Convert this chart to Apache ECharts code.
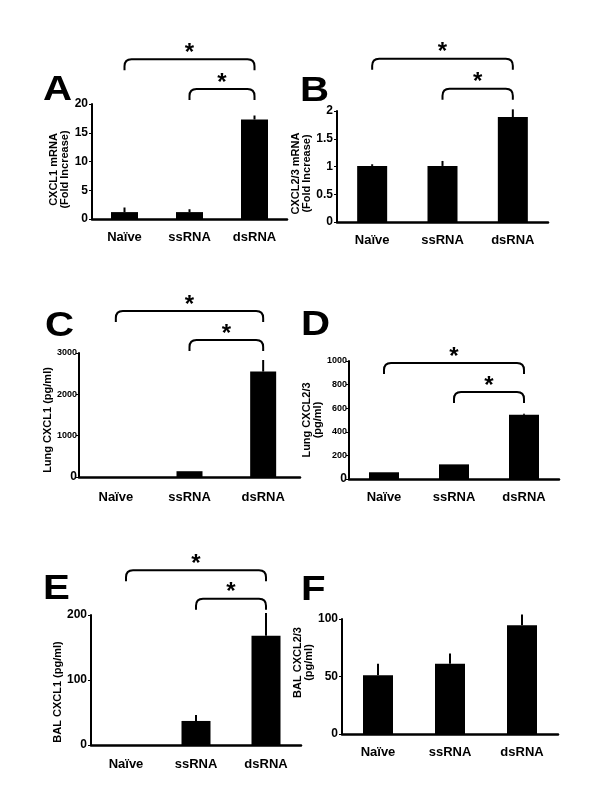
<!DOCTYPE html>
<html>
<head>
<meta charset="utf-8">
<script src="https://cdn.jsdelivr.net/npm/echarts@6/dist/echarts.min.js"></script>
<style>
html,body{margin:0;padding:0;background:#fff;}
#chart{width:600px;height:800px;}
</style>
</head>
<body>
<div id="chart"></div>
<script>
// ---------- data ----------
const categories = ['Naïve', 'ssRNA', 'dsRNA'];

const valuesA = [1.2, 1.2, 17.3];
const errTopA = [2.0, 1.7, 18.0];
const ticksA = [0, 5, 10, 15, 20];

const valuesB = [1.01, 1.01, 1.89];
const errTopB = [1.04, 1.10, 2.03];
const ticksB = [0, 0.5, 1, 1.5, 2];

const valuesC = [0, 140, 2550];
const errTopC = [0, 140, 2830];
const ticksC = [0, 1000, 2000, 3000];

const valuesD = [57, 124, 545];
const errTopD = [57, 128, 552];
const ticksD = [0, 200, 400, 600, 800, 1000];

const valuesE = [0, 37, 168];
const errTopE = [0, 46, 203];
const ticksE = [0, 100, 200];

const valuesF = [51, 61, 94.5];
const errTopF = [61, 70, 104];
const ticksF = [0, 50, 100];

// significance comparisons (category index pairs)
const compareA = [[0, 2], [1, 2]];
const compareB = [[0, 2], [1, 2]];
const compareC = [[0, 2], [1, 2]];
const compareD = [[0, 2], [1, 2]];
const compareE = [[0, 2], [1, 2]];
const compareF = [];

const yNames = [
  'CXCL1 mRNA\n(Fold Increase)',
  'CXCL2/3 mRNA\n(Fold Increase)',
  'Lung CXCL1 (pg/ml)',
  'Lung CXCL2/3\n(pg/ml)',
  'BAL CXCL1 (pg/ml)',
  'BAL CXCL2/3\n(pg/ml)'
];
const letters = ['A', 'B', 'C', 'D', 'E', 'F'];

// ---------- layout ----------
const FONT = 'Liberation Sans, Arial, sans-serif';
const panels = [
  {vals: valuesA, errs: errTopA, ticks: ticksA, cmp: compareA, grid: {left: 92, top: 104, width: 195, height: 115},
   barWidth: 27, nameGap: 20, shift: 8, labelMargin: 12, levels: [27.8, 22.6], small: false, letterPos: [43, 90]},
  {vals: valuesB, errs: errTopB, ticks: ticksB, cmp: compareB, grid: {left: 337, top: 111, width: 211, height: 111},
   barWidth: 30, nameGap: 19, shift: 7, labelMargin: 12, levels: [2.94, 2.40], small: false, letterPos: [300, 91]},
  {vals: valuesC, errs: errTopC, ticks: ticksC, cmp: compareC, grid: {left: 79, top: 353, width: 221, height: 124},
   barWidth: 26, nameGap: 19, shift: 5, labelMargin: 14, levels: [4016, 3315], small: true, letterPos: [45, 326]},
  {vals: valuesD, errs: errTopD, ticks: ticksD, cmp: compareD, grid: {left: 349, top: 361, width: 210, height: 118},
   barWidth: 30, nameGap: 22, shift: 0, labelMargin: 12, levels: [983, 737], small: true, letterPos: [301, 325]},
  {vals: valuesE, errs: errTopE, ticks: ticksE, cmp: compareE, grid: {left: 91, top: 615, width: 210, height: 130},
   barWidth: 29, nameGap: 26, shift: 12, labelMargin: 13, levels: [269, 225], small: false, letterPos: [43, 589]},
  {vals: valuesF, errs: errTopF, ticks: ticksF, cmp: compareF, grid: {left: 342, top: 619, width: 216, height: 115},
   barWidth: 30, nameGap: 19, shift: -14, labelMargin: 12, levels: [], small: false, letterPos: [301, 590]}
];

const grids = [], xAxes = [], yAxes = [], series = [], graphics = [];

panels.forEach((p, k) => {
  grids.push(Object.assign({containLabel: false}, p.grid));
  xAxes.push({
    type: 'category', gridIndex: k, data: categories,
    axisTick: {show: false},
    axisLine: {lineStyle: {color: '#000', width: 2.5}},
    axisLabel: {color: '#000', fontFamily: FONT, fontWeight: 'bold', fontSize: 13, margin: p.labelMargin}
  });
  const tmax = p.ticks[p.ticks.length - 1];
  const interval = p.ticks[1] - p.ticks[0];
  const pad = p.shift >= 0 ? [0, 2 * p.shift, 0, 0] : [0, 0, 0, -2 * p.shift];
  const axisLabel = {color: '#000', fontFamily: FONT, fontWeight: 'bold', fontSize: 12, margin: p.small ? 2 : 4};
  if (p.small) {
    axisLabel.formatter = v => (v === 0 ? '{big|0}' : '{sm|' + v + '}');
    axisLabel.rich = {
      big: {fontSize: 12, fontWeight: 'bold', fontFamily: FONT, color: '#000'},
      sm: {fontSize: 9, fontWeight: 'bold', fontFamily: FONT, color: '#000'}
    };
  }
  yAxes.push({
    type: 'value', gridIndex: k, min: 0, max: tmax, interval: interval,
    splitLine: {show: false},
    axisLine: {show: true, lineStyle: {color: '#000', width: 2}},
    axisTick: {show: true, length: 3, lineStyle: {color: '#000', width: 1}},
    axisLabel: axisLabel,
    name: yNames[k], nameLocation: 'middle', nameGap: p.nameGap, nameRotate: 90,
    nameTextStyle: {color: '#000', fontFamily: FONT, fontWeight: 'bold', fontSize: 11, lineHeight: 11, padding: pad}
  });
  series.push({
    type: 'bar', xAxisIndex: k, yAxisIndex: k, data: p.vals, barWidth: p.barWidth,
    itemStyle: {color: '#000'}, silent: true
  });
  series.push({
    type: 'custom', xAxisIndex: k, yAxisIndex: k, z: 5,
    encode: {x: 0, y: [1, 2]},
    data: p.vals.map((v, i) => [i, v, p.errs[i]]),
    renderItem: function (params, api) {
      const i = api.value(0);
      const a = api.coord([i, api.value(1)]);
      const b = api.coord([i, api.value(2)]);
      if (Math.abs(a[1] - b[1]) < 0.5) return null;
      return {type: 'line', shape: {x1: a[0], y1: a[1], x2: b[0], y2: b[1]},
              style: {stroke: '#000', lineWidth: 2}};
    }
  });
  if (p.cmp.length) {
    series.push({
      type: 'custom', xAxisIndex: k, yAxisIndex: k, z: 6,
      encode: {x: 0, y: 2},
      data: p.cmp.map((c, j) => [c[0], c[1], p.levels[j]]),
      renderItem: function (params, api) {
        const lv = api.value(2);
        const a = api.coord([api.value(0), lv]);
        const b = api.coord([api.value(1), lv]);
        const y = a[1], leg = 11, r = 7;
        const d = 'M' + a[0] + ',' + (y + leg) + ' L' + a[0] + ',' + (y + r) +
                  ' Q' + a[0] + ',' + y + ' ' + (a[0] + r) + ',' + y +
                  ' L' + (b[0] - r) + ',' + y + ' Q' + b[0] + ',' + y + ' ' + b[0] + ',' + (y + r) +
                  ' L' + b[0] + ',' + (y + leg);
        return {type: 'group', children: [
          {type: 'path', shape: {pathData: d}, style: {stroke: '#000', lineWidth: 2, fill: null}},
          {type: 'text', x: (a[0] + b[0]) / 2, y: y - 6,
           style: {text: '*', fill: '#000', font: 'bold 24px ' + FONT, align: 'center', verticalAlign: 'middle'}}
        ]};
      }
    });
  }
  graphics.push({
    type: 'text', x: p.letterPos[0], y: p.letterPos[1], scaleX: 1.15,
    style: {text: letters[k], fill: '#000', font: 'bold 35px ' + FONT, align: 'left', verticalAlign: 'middle'}
  });
});

const chart = echarts.init(document.getElementById('chart'), null, {renderer: 'canvas'});
chart.setOption({
  backgroundColor: '#fff',
  animation: false,
  grid: grids, xAxis: xAxes, yAxis: yAxes, series: series,
  graphic: graphics
});
</script>
</body>
</html>
